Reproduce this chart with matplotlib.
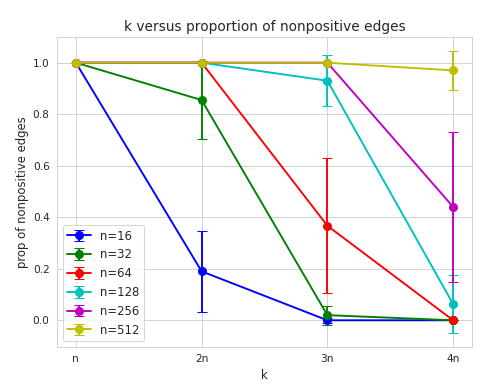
import matplotlib
matplotlib.use("Agg")
import matplotlib.pyplot as plt
import seaborn as sns

sns.set_style("whitegrid")
plt.rcParams.update({
    "axes.titlesize": 13,
    "axes.labelsize": 11,
    "xtick.labelsize": 10,
    "ytick.labelsize": 10,
    "legend.fontsize": 11,
})

k_labels = ["n", "2n", "3n", "4n"]
k_pos = [1, 2, 3, 4]
series_names = ["n=16", "n=32", "n=64", "n=128", "n=256", "n=512"]
colors = ["b", "g", "r", "c", "m", "y"]

vals_16 = [1.0, 0.19, 0.0, 0.0]
err_16 = [0.0, 0.157, 0.01, 0.0]
vals_32 = [1.0, 0.855, 0.02, 0.0]
err_32 = [0.0, 0.152, 0.037, 0.0]
vals_64 = [1.0, 1.0, 0.367, 0.0]
err_64 = [0.0, 0.0, 0.262, 0.0]
vals_128 = [1.0, 1.0, 0.93, 0.063]
err_128 = [0.0, 0.0, 0.099, 0.112]
vals_256 = [1.0, 1.0, 1.0, 0.44]
err_256 = [0.0, 0.0, 0.0, 0.29]
vals_512 = [1.0, 1.0, 1.0, 0.97]
err_512 = [0.0, 0.0, 0.0, 0.075]

all_vals = [vals_16, vals_32, vals_64, vals_128, vals_256, vals_512]
all_errs = [err_16, err_32, err_64, err_128, err_256, err_512]

dpi = 76
fig, ax = plt.subplots(figsize=(487 / dpi, 389 / dpi), dpi=dpi)
for name, c, v, e in zip(series_names, colors, all_vals, all_errs):
    ax.errorbar(k_pos, v, yerr=e, color=c, marker="o", markersize=7.5,
                capsize=5, linewidth=1.8, label=name)

ax.set_xticks(k_pos)
ax.set_xticklabels(k_labels)
ax.set_xlabel("k")
ax.set_ylabel("prop of nonpositive edges")
ax.set_title("k versus proportion of nonpositive edges")
ax.legend(loc="lower left")
fig.subplots_adjust(left=57 / 487, right=472 / 487, top=1 - 37 / 389, bottom=1 - 347 / 389)
fig.savefig("out.png", dpi=dpi)
